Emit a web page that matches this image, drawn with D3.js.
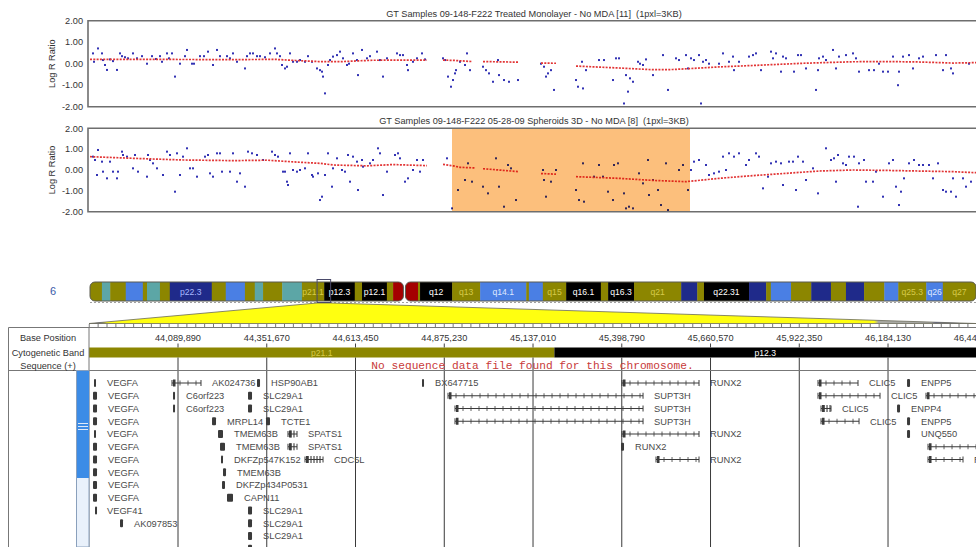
<!DOCTYPE html>
<html>
<head>
<meta charset="utf-8">
<script src="https://cdn.jsdelivr.net/npm/d3@7"></script>
<style>
  body { margin: 0; background: #fff; }
  svg { display: block; font-family: "Liberation Sans", Arial, sans-serif; }
  text { fill: #333; font-size: 9.2px; white-space: pre; }
</style>
</head>
<body>
<svg id="chart" width="976" height="547"></svg>
<script>
// ---------------- data ----------------
const logRTicks = [2, 1, 0, -1, -2];
const windowSpanKb = 2661;              // width of the plotted window (1 pixel = 3 kb)

const panelTitles = [
  "GT Samples 09-148-F222 Treated Monolayer - No MDA [11]  (1pxl=3KB)",
  "GT Samples 09-148-F222 05-28-09 Spheroids 3D - No MDA [8]  (1pxl=3KB)"
];

// probe log R ratios: [offset in kb from window start, value]
const monolayerProbes = [
  [12,0.48],[15,0.09],[27,0.71],[39,0.48],[42,0.17],[48,-0.06],[54,-0.29],[63,0.2],[72,0.12],[84,-0.29],
  [93,0.48],[99,0.35],[108,0.3],[117,0.25],[132,0.48],[144,0.25],[159,0.35],[174,0.0],[189,0.35],[201,0.22],
  [213,0.35],[219,0.09],[234,0.48],[240,0.25],[249,0.48],[258,-0.6],[273,0.0],[288,0.35],[294,0.64],[309,0.0],
  [315,0.0],[333,0.35],[345,0.35],[357,0.56],[372,-0.06],[384,0.64],[393,0.35],[414,0.35],[423,0.25],[432,0.48],
  [444,0.09],[468,-0.22],[474,0.35],[483,0.48],[492,0.48],[504,0.35],[513,0.35],[528,0.3],[543,0.48],[558,0.71],
  [564,0.48],[573,0.35],[579,-0.06],[588,-0.22],[594,-0.14],[603,0.48],[612,0.09],[624,0.09],[633,0.17],[648,0.09],
  [657,0.35],[669,0.09],[684,-0.22],[693,-0.3],[699,-0.37],[702,-0.6],[708,-1.38],[717,-0.06],[723,0.17],[732,0.33],
  [744,0.4],[753,0.56],[762,0.25],[774,-0.06],[780,0.0],[792,0.48],[804,0.17],[807,-0.53],[819,0.64],[834,0.25],
  [843,0.35],[864,0.56],[873,0.17],[882,-0.6],[894,0.25],[924,0.48],[933,0.4],[942,0.4],[954,-0.06],[957,-0.3],
  [972,0.09],[984,0.25],[999,0.48],[1008,0.2],
  [1062,0.25],[1068,0.17],[1077,-0.6],[1086,-1.07],[1092,-0.76],[1098,-0.45],[1101,-0.3],[1113,0.09],[1128,-0.06],
  [1134,0.48],[1143,-0.3],
  [1182,-0.14],[1191,-0.3],[1200,-0.45],[1212,-0.84],[1227,0.17],[1230,-0.53],[1245,-0.76],[1260,-0.84],[1287,-0.76],
  [1356,0.0],[1365,-0.14],[1371,-0.6],[1377,-0.45],[1386,-0.3],[1395,-1.22],
  [1461,-0.76],[1467,-1.07],[1479,0.09],[1482,-1.15],[1491,-0.3],[1530,0.17],[1545,0.17],[1572,-0.76],[1581,0.25],
  [1590,0.25],[1605,-1.85],[1611,-0.53],[1617,-1.3],[1623,-0.68],[1632,-0.84],[1647,0.09],[1653,0.0],[1662,-0.06],
  [1671,0.2],[1692,-0.53],[1722,0.4],[1737,-1.22],[1761,0.25],[1770,0.17],[1791,0.4],[1797,-0.22],[1806,0.25],
  [1815,0.17],[1830,0.4],[1836,-1.85],[1842,0.09],[1851,0.17],[1860,0.0],[1890,0.0],[1902,0.48],[1920,0.09],
  [1932,0.33],[1935,-0.3],[1950,0.09],[1980,0.33],[1992,0.4],[2001,0.48],[2016,-0.3],[2046,0.56],[2052,0.25],
  [2061,0.48],[2076,-0.37],[2082,0.33],[2091,0.25],[2115,-0.37],[2127,0.4],[2136,0.4],[2151,-0.22],[2181,-1.22],
  [2187,-0.3],[2190,0.25],[2202,0.33],[2211,0.17],[2232,0.64],[2241,-0.22],[2250,0.33],[2271,0.4],[2292,0.48],
  [2301,0.25],[2310,-0.37],[2340,-0.3],[2355,-0.3],[2370,0.0],[2382,-0.37],[2397,-0.37],[2412,0.33],[2427,-1.0],
  [2430,-0.37],[2442,0.33],[2460,0.4],[2472,-0.22],[2490,0.25],[2502,0.33],[2541,0.4],[2562,-0.3],[2571,0.4],
  [2586,-0.22],[2592,-0.45],[2640,0.0]
];

// smoothed segments: each is a list of [offset kb, value] knots
const monolayerSegments = [
  [[3,0.2],[180,0.2],[420,0.19],[560,0.2],[620,0.15],[690,0.1],[760,0.1],[850,0.16],[1014,0.17]],
  [[1062,0.17],[1098,0.15],[1149,0.1]],
  [[1182,0.1],[1290,0.07]],
  [[1356,0.03],[1401,0.02]],
  [[1461,-0.11],[1590,-0.2],[1692,-0.28],[1752,-0.27],[1890,-0.15],[2040,-0.05],[2142,0.02],[2292,0.09],
   [2391,0.1],[2490,0.08],[2592,0.03],[2661,0.05]]
];

const spheroidProbes = [
  [12,0.64],[18,0.48],[24,-0.24],[27,0.96],[39,0.4],[42,-0.08],[54,-0.4],[63,0.4],[72,-0.08],[84,-0.4],
  [87,-0.08],[99,0.88],[102,0.72],[114,0.64],[132,0.08],[138,0.72],[147,-0.08],[174,-0.32],[177,0.72],[183,0.48],
  [192,0.32],[204,0.08],[222,-0.24],[234,0.88],[243,0.72],[258,-1.04],[264,0.8],[273,-0.24],[282,0.64],[294,1.04],
  [303,0.08],[312,0.08],[324,-0.32],[348,0.64],[357,0.72],[363,-0.16],[372,-0.32],[384,0.8],[393,0.8],[399,-0.08],
  [423,-0.08],[432,0.8],[444,-0.56],[453,-0.16],[468,-0.8],[477,0.88],[489,0.8],[504,0.72],[522,0.48],[549,0.88],
  [558,0.72],[567,0.64],[582,-0.08],[588,-0.08],[594,-0.56],[597,-0.72],[603,0.8],[612,0.0],[624,-0.08],[633,0.0],
  [648,0.08],[657,0.8],[669,-0.24],[672,-0.32],[687,-0.16],[693,-1.44],[699,-1.28],[708,-0.24],[717,0.8],[729,-0.8],
  [732,0.08],[744,0.56],[759,0.0],[768,-0.08],[777,0.72],[783,-0.56],[792,0.64],[804,0.4],[807,-0.96],[819,0.48],
  [822,0.16],[843,0.32],[852,0.48],[867,1.04],[873,0.8],[882,-1.2],[894,-0.08],[918,0.72],[927,0.8],[933,0.56],
  [948,-0.56],[957,-0.4],[972,0.0],[984,0.48],[993,-0.08],[1002,0.48],
  [1074,0.56],[1089,-1.84],[1107,-0.96],[1128,-0.48],[1137,0.32],[1149,-0.56],
  [1182,-0.8],[1197,-1.12],[1221,0.56],[1230,-0.8],[1245,-1.76],[1257,0.24],[1266,0.08],[1281,-1.44],
  [1362,0.0],[1365,-0.48],[1371,-1.28],[1386,-0.56],[1401,0.0],
  [1461,-0.96],[1470,-1.44],[1482,0.32],[1485,-1.52],[1515,-0.32],[1530,0.24],[1542,-0.32],[1557,-1.04],[1572,-1.44],
  [1575,0.24],[1587,0.32],[1605,-1.12],[1611,-1.84],[1620,-1.76],[1632,-1.84],[1650,-0.16],[1662,-0.64],[1677,0.48],
  [1680,-1.2],[1692,-0.48],[1707,-0.96],[1716,-1.68],[1731,0.32],[1737,-1.92],[1770,0.0],[1782,0.24],[1797,-0.96],
  [1806,0.0],[1815,0.4],[1830,0.48],[1851,0.24],[1860,-0.24],[1875,-0.16],[1890,-0.08],[1902,0.64],[1911,0.0],
  [1920,0.8],[1935,0.64],[1950,0.8],[1971,0.24],[1980,0.48],[2001,0.8],[2010,0.64],[2022,-0.88],[2037,-0.32],
  [2046,0.32],[2061,0.4],[2076,0.32],[2082,-0.72],[2100,0.4],[2112,0.4],[2121,-0.96],[2127,0.64],[2142,0.4],
  [2151,-0.48],[2172,0.08],[2187,-1.12],[2211,1.04],[2226,0.48],[2235,0.56],[2241,-0.56],[2247,0.72],[2262,0.32],
  [2271,0.24],[2280,0.64],[2295,0.64],[2307,-1.76],[2310,0.32],[2325,0.48],[2331,-0.56],[2352,-0.56],[2361,-0.08],
  [2382,-1.28],[2400,0.32],[2412,0.48],[2421,-0.8],[2430,-1.68],[2436,-1.04],[2445,-0.4],[2460,0.32],[2475,0.48],
  [2490,0.24],[2502,0.24],[2520,0.24],[2532,-0.4],[2547,0.32],[2562,-0.96],[2571,-1.04],[2586,-1.04],[2592,-0.4],
  [2601,-1.28],[2622,-0.4],[2631,-0.8],[2646,-0.56]
];

const spheroidSegments = [
  [[3,0.64],[132,0.56],[282,0.48],[432,0.45],[534,0.47],[633,0.37],[693,0.32],[732,0.24],[834,0.2],[912,0.26],[1014,0.21]],
  [[1062,0.27],[1092,0.2],[1113,0.13],[1158,0.1]],
  [[1182,0.06],[1230,0.0],[1290,-0.08]],
  [[1356,-0.17],[1401,-0.2]],
  [[1461,-0.32],[1590,-0.4],[1692,-0.5],[1791,-0.56],[1890,-0.4],[1992,-0.27],[2091,-0.16],[2190,-0.05],
   [2292,0.0],[2391,-0.02],[2490,-0.05],[2592,-0.08],[2661,-0.13]]
];

// highlighted aberration in the spheroid sample [start kb, end kb]
const spheroidHighlightKb = [1089, 1803];

// chromosome 6 ideogram bands: [start Mb, end Mb, stain, label]
const chr6LengthMb = 171;
const centromereMb = 60.4;
const chr6Bands = [
  [0,2.3,"olive",""],[2.3,3.9,"teal",""],[3.9,6.9,"olive",""],[6.9,10.2,"blue",""],[10.2,11.0,"olive",""],
  [11.0,13.5,"teal",""],[13.5,15.4,"olive",""],[15.4,23.5,"navy","p22.3"],[23.5,26.2,"olive",""],
  [26.2,29.9,"blue",""],[29.9,31.8,"olive",""],[31.8,33.4,"teal",""],[33.4,37.1,"olive",""],[37.1,40.9,"teal",""],
  [40.9,45.2,"olive","p21.1"],[45.2,51.1,"black","p12.3"],[51.1,52.5,"olive",""],[52.5,57.3,"black","p12.1"],
  [57.3,58.5,"olive",""],[58.5,60.4,"red",""],[60.4,63.3,"red",""],[63.3,63.7,"olive",""],[63.7,69.9,"black","q12"],
  [69.9,75.3,"olive","q13"],[75.3,84.2,"blue","q14.1"],[84.2,84.7,"olive",""],[84.7,87.4,"blue",""],
  [87.4,91.9,"olive","q15"],[91.9,98.6,"black","q16.1"],[98.6,100.0,"olive",""],[100.0,105.0,"black","q16.3"],
  [105.0,114.1,"olive","q21"],[114.1,117.2,"navy",""],[117.2,118.5,"olive",""],[118.5,127.2,"black","q22.31"],
  [127.2,130.5,"navy",""],[130.5,131.4,"olive",""],[131.4,135.3,"blue",""],[135.3,139.2,"olive",""],
  [139.2,143.0,"navy",""],[143.0,145.9,"olive",""],[145.9,149.4,"navy",""],[149.4,153.3,"olive",""],
  [153.3,156.0,"blue",""],[156.0,161.4,"olive","q25.3"],[161.4,164.6,"blue","q26"],[164.6,171.0,"olive","q27"]
];

// genome window shown in the track table (bp)
const viewWindowBp = [43827360, 46443600];
const basePositionTicks = [44089890, 44351670, 44613450, 44875230, 45137010,
                           45398790, 45660570, 45922350, 46184130, 46445910];
const sequenceMessage = "No sequence data file found for this chromosome.";

// gene models: [symbol, row, start kb, end kb]
const genes = [
  ["VEGFA",0,43842.1,43848.0],["VEGFA",1,43839.2,43851.0],["VEGFA",2,43839.2,43851.0],["VEGFA",3,43839.2,43851.0],
  ["VEGFA",4,43842.1,43848.0],["VEGFA",5,43839.2,43851.0],["VEGFA",6,43839.2,43851.0],["VEGFA",7,43839.2,43851.0],
  ["VEGFA",8,43839.2,43851.0],["VEGFA",9,43839.2,43851.0],["VEGF41",10,43845.1,43848.0],["AK097853",11,43918.8,43927.7],
  ["AK024736",0,44072.2,44157.7],["C6orf223",1,44075.2,44081.1],["C6orf223",2,44075.2,44081.1],
  ["HSP90AB1",0,44322.9,44331.8],["SLC29A1",1,44296.4,44308.2],["SLC29A1",2,44296.4,44308.2],
  ["MRPL14",3,44190.2,44202.0],["TCTE1",3,44349.4,44361.2],["TMEM63B",4,44207.9,44222.6],
  ["TMEM63B",5,44213.8,44228.5],["SPATS1",4,44414.3,44440.9],["SPATS1",5,44414.3,44440.9],
  ["DKFZp547K152",6,44216.7,44222.6],["CDC5L",6,44464.5,44517.6],["TMEM63B",7,44222.6,44231.5],
  ["DKFZp434P0531",8,44219.7,44228.5],["CAPN11",9,44234.4,44252.1],["SLC29A1",10,44296.4,44308.2],
  ["SLC29A1",11,44296.4,44308.2],["SLC29A1",12,44296.4,44308.2],["SLC29A1",13,44296.4,44308.2],
  ["BX647715",0,44809.6,44815.5],["SUPT3H",1,44886.3,45461.5],["SUPT3H",2,44906.9,45461.5],
  ["SUPT3H",3,44906.9,45461.5],["RUNX2",0,45399.5,45626.6],["RUNX2",4,45399.5,45626.6],
  ["RUNX2",5,45396.6,45405.4],["RUNX2",6,45499.8,45626.6],
  ["CLIC5",0,45977.6,46095.6],["CLIC5",1,45977.6,46160.5],["CLIC5",2,45986.5,46016.0],["CLIC5",3,45986.5,46098.6],
  ["ENPP5",0,46240.2,46249.0],["ENPP4",2,46210.7,46219.5],["ENPP5",3,46240.2,46249.0],["UNQ550",4,46240.2,46249.0],
  ["RCAN2",1,46296.2,46520.0],["RCAN2",5,46302.1,46520.0],["RCAN2",6,46302.1,46405.3]
];

// ---------------- drawing ----------------
const svg = d3.select("#chart");
const defs = svg.append("defs");
const plotLeft = 89, plotRight = 976, chartBottom = 547;

const x = d3.scaleLinear().domain([0, windowSpanKb]).range([plotLeft, plotRight]);

defs.append("clipPath").attr("id", "trackClip")
  .append("rect").attr("x", plotLeft).attr("y", 0).attr("width", plotRight - plotLeft).attr("height", chartBottom);

const panels = [
  { title: panelTitles[0], probes: monolayerProbes, segments: monolayerSegments, highlight: null, top: 20.7, bottom: 106.7 },
  { title: panelTitles[1], probes: spheroidProbes, segments: spheroidSegments, highlight: spheroidHighlightKb, top: 128.3, bottom: 211.7 }
];

panels.forEach(p => {
  const y = d3.scaleLinear().domain([-2, 2]).range([p.bottom, p.top]);
  const g = svg.append("g");

  g.append("text").attr("x", 534).attr("y", p.top - 4).attr("text-anchor", "middle").text(p.title);

  g.selectAll("text.ytick").data(logRTicks).join("text")
    .attr("class", "ytick").attr("x", 83).attr("y", d => y(d)).attr("dy", "0.35em")
    .attr("text-anchor", "end").text(d => d.toFixed(2));

  g.append("text").attr("transform", `translate(55,${(p.top + p.bottom) / 2}) rotate(-90)`)
    .attr("text-anchor", "middle").text("Log R Ratio");

  const plot = g.append("g").attr("clip-path", "url(#trackClip)").style("isolation", "isolate");

  plot.selectAll("rect.probe").data(p.probes).join("rect")
    .attr("class", "probe")
    .attr("x", d => x(d[0]) - 1).attr("y", d => y(d[1]) - 1)
    .attr("width", 2).attr("height", 2).attr("fill", "#3232b4");

  const line = d3.line().x(d => x(d[0])).y(d => y(d[1]));
  plot.selectAll("path.seg").data(p.segments).join("path")
    .attr("class", "seg").attr("d", line).attr("fill", "none")
    .attr("stroke", "#e23434").attr("stroke-width", 1.7).attr("stroke-dasharray", "2,1.3");

  if (p.highlight) {
    // tinted band multiplied over the probes so they stay visible underneath
    plot.append("rect")
      .attr("x", x(p.highlight[0])).attr("y", p.top)
      .attr("width", x(p.highlight[1]) - x(p.highlight[0])).attr("height", p.bottom - p.top)
      .attr("fill", "#fcbf7c").style("mix-blend-mode", "multiply");
  }

  g.append("path").attr("d", `M${plotRight},${p.top}H${plotLeft - 1}V${p.bottom}H${plotRight}`)
    .attr("fill", "none").attr("stroke", "#6e6e6e").attr("stroke-width", 1.6);
});

// ---------------- chromosome ideogram ----------------
const chrX = d3.scaleLinear().domain([0, chr6LengthMb]).range([90, 976]);
const ideoTop = 282, ideoH = 19;
const stainFill = { olive: "#8c8600", teal: "#5ca6a6", blue: "#4a7fe4", navy: "#1f2a8a", black: "#000", red: "#a40000" };
const stainText = { olive: "#d6ca4a", teal: "#ffffff", blue: "#dfe8ff", navy: "#a9b8ff", black: "#ffffff", red: "#ffffff" };

svg.append("text").attr("x", 53).attr("y", ideoTop + ideoH / 2).attr("dy", "0.35em")
  .attr("text-anchor", "middle").style("font-size", "11px").style("fill", "#3a5aa8").text("6");

const arms = [
  { id: "pArm", x0: chrX(0), x1: chrX(centromereMb) + 0.5 },
  { id: "qArm", x0: chrX(centromereMb) + 2.5, x1: chrX(chr6LengthMb) }
];
arms.forEach(a => {
  defs.append("clipPath").attr("id", a.id).append("rect")
    .attr("x", a.x0).attr("y", ideoTop).attr("width", a.x1 - a.x0).attr("height", ideoH).attr("rx", 5);
});

const ideo = svg.append("g");
chr6Bands.forEach(b => {
  const arm = b[1] <= centromereMb ? "pArm" : "qArm";
  ideo.append("rect").attr("clip-path", `url(#${arm})`)
    .attr("x", chrX(b[0])).attr("y", ideoTop).attr("width", chrX(b[1]) - chrX(b[0]) + 0.4).attr("height", ideoH)
    .attr("fill", stainFill[b[2]]);
});
arms.forEach(a => {
  ideo.append("rect").attr("x", a.x0).attr("y", ideoTop).attr("width", a.x1 - a.x0).attr("height", ideoH)
    .attr("rx", 5).attr("fill", "none").attr("stroke", "#5a5a50").attr("stroke-width", 1);
});
ideo.selectAll("text.band").data(chr6Bands.filter(b => b[3])).join("text")
  .attr("class", "band").attr("x", b => (chrX(b[0]) + chrX(b[1])) / 2).attr("y", ideoTop + ideoH / 2)
  .attr("dy", "0.35em").attr("text-anchor", "middle").style("font-size", "8.6px")
  .style("fill", b => stainText[b[2]]).text(b => b[3]);

ideo.append("line").attr("x1", chrX(0)).attr("x2", chrX(chr6LengthMb)).attr("y1", 302.5).attr("y2", 302.5)
  .attr("stroke", "#a0a0a0").attr("stroke-dasharray", "2,2");

// zoom connector from the selected window on the ideogram to the track table
const winStartMb = viewWindowBp[0] / 1e6, winEndMb = viewWindowBp[1] / 1e6;
const grad = defs.append("linearGradient").attr("id", "zoomFill")
  .attr("gradientUnits", "userSpaceOnUse").attr("x1", plotLeft).attr("x2", plotRight).attr("y1", 0).attr("y2", 0);
[[0, "#2a2f80"], [0.012, "#2a2f80"], [0.02, "#ffff10"], [0.885, "#ffff10"], [0.89, "#a8a8a0"],
 [0.95, "#a8a8a8"], [0.955, "#30348a"], [1, "#30348a"]]
  .forEach(s => grad.append("stop").attr("offset", s[0]).attr("stop-color", s[1]));

svg.append("polygon")
  .attr("points", [[chrX(winStartMb), 303], [chrX(winEndMb), 303], [plotRight, 323.5], [plotLeft, 323.5]].join(" "))
  .attr("fill", "url(#zoomFill)").attr("stroke", "#6a6a58").attr("stroke-width", 0.8);

svg.append("rect").attr("x", chrX(winStartMb)).attr("y", 279.5)
  .attr("width", chrX(winEndMb) - chrX(winStartMb)).attr("height", 23)
  .attr("fill", "none").attr("stroke", "#4a4a6a").attr("stroke-width", 1);

// ---------------- track table ----------------
const trackX = d3.scaleLinear().domain(viewWindowBp).range([plotLeft, plotRight]);
const tableTop = 327.5, bandTop = 347.5, seqTop = 357.5, genesTop = 370.5;
const rowY = i => 383 + i * 12.75;

// ruler ticks along the top edge
const tickStep = basePositionTicks[1] - basePositionTicks[0];
const minorTicks = d3.range(-10, 100).map(k => basePositionTicks[0] + k * tickStep / 10)
  .filter(v => v >= viewWindowBp[0] && v <= viewWindowBp[1] + tickStep / 10);
svg.append("g").selectAll("line").data(minorTicks).join("line")
  .attr("x1", d => trackX(d)).attr("x2", d => trackX(d)).attr("y1", 324).attr("y2", tableTop)
  .attr("stroke", "#555").attr("stroke-width", 0.8);

const table = svg.append("g");
// band row within the window
const track = table.append("g").attr("clip-path", "url(#trackClip)");
chr6Bands.filter(b => b[1] * 1e6 > viewWindowBp[0] && b[0] * 1e6 < viewWindowBp[1]).forEach(b => {
  const x0 = Math.max(plotLeft, trackX(b[0] * 1e6)), x1 = Math.min(plotRight, trackX(b[1] * 1e6));
  track.append("rect").attr("x", x0).attr("y", bandTop).attr("width", x1 - x0).attr("height", seqTop - bandTop)
    .attr("fill", stainFill[b[2]]);
  track.append("text").attr("x", (x0 + x1) / 2).attr("y", (bandTop + seqTop) / 2).attr("dy", "0.35em")
    .attr("text-anchor", "middle").style("font-size", "8.6px").style("fill", stainText[b[2]]).text(b[3]);
});

// base position labels and ticks
track.selectAll("text.bp").data(basePositionTicks).join("text")
  .attr("class", "bp").attr("x", d => trackX(d)).attr("y", 341).attr("text-anchor", "middle")
  .text(d3.format(","));
track.selectAll("line.bpt").data(basePositionTicks).join("line")
  .attr("class", "bpt").attr("x1", d => trackX(d)).attr("x2", d => trackX(d)).attr("y1", 343.5).attr("y2", bandTop)
  .attr("stroke", "#444");

// grid lines through sequence and gene rows
track.selectAll("line.grid").data(basePositionTicks).join("line")
  .attr("class", "grid").attr("x1", d => trackX(d)).attr("x2", d => trackX(d)).attr("y1", seqTop).attr("y2", chartBottom)
  .attr("stroke", "#3a3a3a").attr("stroke-width", 1);

track.append("text").attr("x", (plotLeft + plotRight) / 2).attr("y", 368.5).attr("text-anchor", "middle")
  .style("font-family", "'Liberation Mono', 'DejaVu Sans Mono', monospace").style("font-size", "11.2px")
  .style("fill", "#c83a3a").text(sequenceMessage);

// gene models: short genes as solid blocks, compact genes with dense exon bars,
// longer genes as an intron line with direction ticks
const geneG = track.append("g");
genes.forEach(([sym, row, s, e]) => {
  const x0 = trackX(s * 1000), x1 = trackX(e * 1000), cy = rowY(row), w = x1 - x0;
  const ink = "#3a3a3a";
  if (w < 8) {
    geneG.append("rect").attr("x", x0).attr("y", cy - 4).attr("width", Math.max(2, w)).attr("height", 8)
      .attr("rx", 1).attr("fill", ink);
  } else {
    const compact = w <= 20;
    geneG.append("line").attr("x1", x0).attr("x2", x1).attr("y1", cy).attr("y2", cy).attr("stroke", ink);
    [x0, x1].forEach(xx => geneG.append("line").attr("x1", xx).attr("x2", xx).attr("y1", cy - 3).attr("y2", cy + 3)
      .attr("stroke", ink));
    const step = compact ? 3 : 8;
    const half = compact ? 3.5 : 2.5;
    d3.range(x0 + step, x1 - 1, step).forEach(xx => geneG.append("line")
      .attr("x1", xx).attr("x2", xx).attr("y1", cy - half).attr("y2", cy + half)
      .attr("stroke", ink).attr("stroke-width", compact ? 1.1 : 0.8));
    geneG.append("rect").attr("x", x0 + 1).attr("y", cy - 3.5).attr("width", 2.5).attr("height", 7).attr("fill", ink);
  }
  if (cy < chartBottom) {
    geneG.append("text").attr("x", x1 + 11).attr("y", cy).attr("dy", "0.35em")
      .style("fill", "#4a4a4a").style("font-size", "9.3px").text(sym);
  }
});

// table frame
table.append("line").attr("x1", 8.5).attr("x2", plotRight).attr("y1", tableTop).attr("y2", tableTop).attr("stroke", "#777");
table.append("line").attr("x1", 8.5).attr("x2", plotRight).attr("y1", genesTop).attr("y2", genesTop).attr("stroke", "#777");
table.append("line").attr("x1", 8.5).attr("x2", 8.5).attr("y1", tableTop).attr("y2", chartBottom).attr("stroke", "#777");
table.append("line").attr("x1", plotLeft).attr("x2", plotLeft).attr("y1", tableTop).attr("y2", chartBottom).attr("stroke", "#777");

[["Base Position", 341], ["Cytogenetic Band", 356], ["Sequence (+)", 368.5]].forEach(([t, yy]) =>
  table.append("text").attr("x", 48).attr("y", yy).attr("text-anchor", "middle").style("fill", "#333").text(t));

// scrollbar of the gene panel
const sb = table.append("g");
sb.append("rect").attr("x", 76.5).attr("y", genesTop).attr("width", 12.5).attr("height", chartBottom - genesTop)
  .attr("fill", "#e9f1fb").attr("stroke", "#8aa0bc");
sb.append("rect").attr("x", 77).attr("y", genesTop + 0.5).attr("width", 12).attr("height", 107)
  .attr("fill", "#3c8ce6");
[423.5, 426.5, 429.5].forEach(yy => sb.append("line").attr("x1", 78).attr("x2", 88).attr("y1", yy).attr("y2", yy)
  .attr("stroke", "#dfeaf8").attr("stroke-width", 1));
</script>
</body>
</html>
